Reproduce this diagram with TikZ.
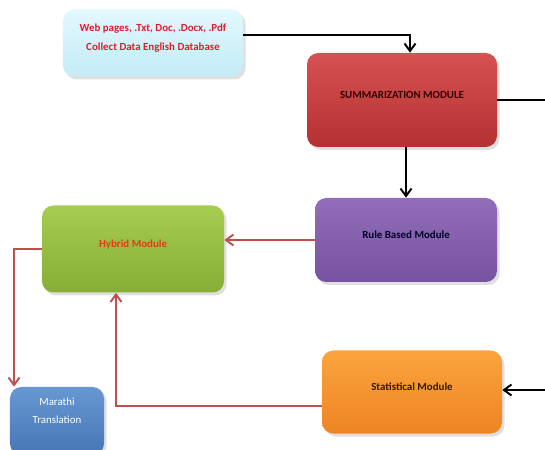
\documentclass[tikz,border=0pt]{standalone}
\usepackage{fontspec}
\setmainfont{Carlito}
\usetikzlibrary{arrows.meta, calc, positioning, shadows}

\definecolor{webtop}{RGB}{226,248,253}
\definecolor{webbot}{RGB}{196,235,246}
\definecolor{webtext}{RGB}{222,30,45}
\definecolor{sumtop}{RGB}{214,82,82}
\definecolor{sumbot}{RGB}{180,48,50}
\definecolor{ruletop}{RGB}{146,110,186}
\definecolor{rulebot}{RGB}{118,82,160}
\definecolor{hybtop}{RGB}{166,204,80}
\definecolor{hybbot}{RGB}{134,174,54}
\definecolor{hybtext}{RGB}{222,62,22}
\definecolor{martop}{RGB}{104,152,210}
\definecolor{marbot}{RGB}{70,118,180}
\definecolor{stattop}{RGB}{250,164,62}
\definecolor{statbot}{RGB}{238,132,36}
\definecolor{linkred}{RGB}{192,80,77}

\begin{document}
\begin{tikzpicture}[x=0.2mm, y=-0.2mm,
    font=\fontsize{6.2}{8}\selectfont\bfseries,
    module/.style={rounded corners=6.5pt, align=center, text depth=2.2mm,
        drop shadow={opacity=0.25, shadow xshift=0.5mm, shadow yshift=-0.6mm}},
    move/.style={-{Straight Barb[length=1.5mm, width=2.2mm]}, line width=1.1pt, black},
    feed/.style={-{Straight Barb[length=1.5mm, width=2.2mm]}, line width=1.1pt, linkred}
]
\useasboundingbox (0,0) rectangle (545,450);
\node[module, top color=webtop, bottom color=webbot, text=webtext,
    font=\fontsize{6.2}{10.6}\selectfont\bfseries, text depth=2.4mm,
    minimum width=3.6cm, minimum height=1.34cm] (web) at (153,43)
    {Web pages, .Txt, Doc, .Docx, .Pdf\\Collect Data English Database};
\node[module, top color=sumtop, bottom color=sumbot, text=black!80!red,
    minimum width=3.8cm, minimum height=1.88cm] (summ) at (402,100)
    {SUMMARIZATION MODULE};
\node[module, top color=ruletop, bottom color=rulebot, text=black!85!blue,
    minimum width=3.64cm, minimum height=1.68cm] (rule) at (406,240)
    {Rule Based Module};
\node[module, top color=hybtop, bottom color=hybbot, text=hybtext,
    minimum width=3.64cm, minimum height=1.74cm] (hyb) at (133,249)
    {Hybrid Module};
\node[module, top color=stattop, bottom color=statbot, text=black!80!orange,
    minimum width=3.6cm, minimum height=1.66cm] (stat) at (412,392)
    {Statistical Module};
\node[module, top color=martop, bottom color=marbot, text=white,
    font=\fontsize{6.2}{10.2}\selectfont, text depth=4mm,
    minimum width=1.88cm, minimum height=1.36cm] (mar) at (57,421)
    {Marathi\\Translation};
\coordinate (outR) at (545,100);
\coordinate (inR) at (545,390);
\draw[move] ([yshift=1.6mm]web.east) -| ([xshift=1.6mm]summ.north);
\draw[line width=1.1pt] (summ.east) -- (outR);
\draw[move] (summ.south -| rule.north) -- (rule.north);
\draw[move] (inR) -- (inR -| stat.east);
\draw[feed] (rule.west) -- (rule.west -| hyb.east);
\draw[feed] ([yshift=-2.8mm]stat.west) -| ([xshift=-3.4mm]hyb.south);
\draw[feed] (hyb.west) -| ([xshift=-8.6mm]mar.north);
\end{tikzpicture}
\end{document}
